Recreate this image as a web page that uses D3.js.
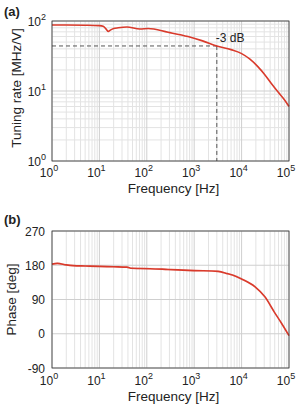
<!DOCTYPE html>
<html>
<head>
<meta charset="utf-8">
<script src="https://cdn.jsdelivr.net/npm/d3@7"></script>
<style>
  body { margin: 0; background: #fff; }
  text { font-family: "Liberation Sans", Arial, sans-serif; fill: #222; }
</style>
</head>
<body>
<svg width="298" height="406"></svg>
<script>
// tuning rate (a)
let rateFreq = [1, 2, 5, 10, 12, 14, 15.4, 17, 20, 25, 38, 72, 107, 280, 740, 1500, 3000, 6000, 9800, 15000, 22000, 30000, 42000, 60000, 80000, 100000];
let rateVal  = [87.7, 87.5, 87, 86, 84, 76, 71, 74, 78, 80, 82, 77, 78, 69, 60, 52, 44, 39, 34.5, 28.5, 22.3, 17.5, 12.9, 9.5, 7.5, 6.0];

// phase (b)
let phaseFreq = [1, 1.3, 2, 2.8, 5, 10, 20, 38, 48, 70, 117, 280, 1000, 3200, 5000, 7500, 10000, 19000, 31000, 49000, 70000, 100000];
let phaseVal  = [183, 185, 181, 179, 178, 177, 176, 175, 172, 171.5, 171, 169, 166, 164, 158, 151, 144, 124, 97, 57, 27, -5];

let xTicks = [1, 10, 100, 1000, 10000, 100000];
let rateTicks = [1, 10, 100];
let phaseTicks = [-90, 0, 90, 180, 270];
let cutoff = { f: 3000, v: 44, label: "-3 dB" };

let svg = d3.select("svg");
let left = 52, right = 289;
let red = "#d93a2b";
let sup = ["0", "1", "2", "3", "4", "5"];

function powLabel(g, x, y, exp, anchor) {
  let t = g.append("text").attr("x", x).attr("y", y).attr("font-size", 12).attr("text-anchor", anchor);
  t.append("tspan").text("10");
  t.append("tspan").attr("dy", -6).attr("font-size", 9).text(exp);
  return t;
}

let x = d3.scaleLog().domain([1, 1e5]).range([left, right]);

// minor grid values for log x
let xMinor = [];
for (let d = 0; d < 5; d++) for (let k = 2; k <= 9; k++) xMinor.push(k * Math.pow(10, d));

function panel(top, bottom) {
  let g = svg.append("g");
  g.append("rect").attr("x", left).attr("y", top).attr("width", right - left).attr("height", bottom - top).attr("fill", "#fff");
  return g;
}

// ---------- (a) ----------
let ya = d3.scaleLog().domain([1, 100]).range([161, 21]);
let ga = panel(21, 161);
let yMinorA = [];
for (let d = 0; d < 2; d++) for (let k = 2; k <= 9; k++) yMinorA.push(k * Math.pow(10, d));

ga.selectAll(".xm").data(xMinor).enter().append("line")
  .attr("x1", d => x(d)).attr("x2", d => x(d)).attr("y1", 21).attr("y2", 161)
  .attr("stroke", "#e3e3e3").attr("stroke-width", 1);
ga.selectAll(".ym").data(yMinorA).enter().append("line")
  .attr("x1", left).attr("x2", right).attr("y1", d => ya(d)).attr("y2", d => ya(d))
  .attr("stroke", "#e3e3e3").attr("stroke-width", 1);
ga.selectAll(".xM").data(xTicks).enter().append("line")
  .attr("x1", d => x(d)).attr("x2", d => x(d)).attr("y1", 21).attr("y2", 161)
  .attr("stroke", "#cfcfcf").attr("stroke-width", 1);
ga.selectAll(".yM").data(rateTicks).enter().append("line")
  .attr("x1", left).attr("x2", right).attr("y1", d => ya(d)).attr("y2", d => ya(d))
  .attr("stroke", "#cfcfcf").attr("stroke-width", 1);

// -3 dB dashed markers
ga.append("line").attr("x1", left).attr("x2", x(cutoff.f)).attr("y1", ya(cutoff.v)).attr("y2", ya(cutoff.v))
  .attr("stroke", "#444").attr("stroke-dasharray", "4,3").attr("stroke-width", 0.9);
ga.append("line").attr("x1", x(cutoff.f)).attr("x2", x(cutoff.f)).attr("y1", ya(cutoff.v)).attr("y2", 161)
  .attr("stroke", "#444").attr("stroke-dasharray", "4,3").attr("stroke-width", 0.9);
ga.append("text").attr("x", x(cutoff.f) - 1).attr("y", ya(cutoff.v) - 4).attr("font-size", 12).text(cutoff.label);

let lineA = d3.line().x((d, i) => x(rateFreq[i])).y(d => ya(d)).curve(d3.curveMonotoneX);
ga.append("path").datum(rateVal).attr("d", lineA).attr("fill", "none").attr("stroke", red).attr("stroke-width", 1.6);

ga.append("rect").attr("x", left).attr("y", 21).attr("width", right - left).attr("height", 140)
  .attr("fill", "none").attr("stroke", "#333").attr("stroke-width", 0.8);

xTicks.forEach((d, i) => powLabel(ga, x(d) - 3, 177, sup[i], "middle"));
rateTicks.forEach((d, i) => powLabel(ga, left - 6, ya(d) + 5, sup[i], "end"));

ga.append("text").attr("x", (left + right) / 2 + 3).attr("y", 193).attr("text-anchor", "middle").attr("font-size", 13.5).text("Frequency [Hz]");
ga.append("text").attr("transform", "translate(21," + (ya(10) - 3) + ") rotate(-90)").attr("text-anchor", "middle").attr("font-size", 13.5).text("Tuning rate [MHz/V]");
ga.append("text").attr("x", 4).attr("y", 16).attr("font-size", 13).attr("font-weight", "bold").text("(a)");

// ---------- (b) ----------
let yb = d3.scaleLinear().domain([-90, 270]).range([368, 231]);
let gb = panel(231, 368);

gb.selectAll(".xm").data(xMinor).enter().append("line")
  .attr("x1", d => x(d)).attr("x2", d => x(d)).attr("y1", 231).attr("y2", 368)
  .attr("stroke", "#e3e3e3").attr("stroke-width", 1);
gb.selectAll(".xM").data(xTicks).enter().append("line")
  .attr("x1", d => x(d)).attr("x2", d => x(d)).attr("y1", 231).attr("y2", 368)
  .attr("stroke", "#cfcfcf").attr("stroke-width", 1);
gb.selectAll(".yM").data(phaseTicks).enter().append("line")
  .attr("x1", left).attr("x2", right).attr("y1", d => yb(d)).attr("y2", d => yb(d))
  .attr("stroke", "#cfcfcf").attr("stroke-width", 1);

let areaB = d3.area().x((d, i) => x(phaseFreq[i])).y0(d => yb(d - 2.5)).y1(d => yb(d + 2.5)).curve(d3.curveMonotoneX);
gb.append("path").datum(phaseVal).attr("d", areaB).attr("fill", red).attr("opacity", 0.18);
let lineB = d3.line().x((d, i) => x(phaseFreq[i])).y(d => yb(d)).curve(d3.curveMonotoneX);
gb.append("path").datum(phaseVal).attr("d", lineB).attr("fill", "none").attr("stroke", red).attr("stroke-width", 1.6);

gb.append("rect").attr("x", left).attr("y", 231).attr("width", right - left).attr("height", 137)
  .attr("fill", "none").attr("stroke", "#333").attr("stroke-width", 0.8);

xTicks.forEach((d, i) => powLabel(gb, x(d) - 3, 385, sup[i], "middle"));
gb.selectAll(".yl").data(phaseTicks).enter().append("text")
  .attr("x", left - 7).attr("y", d => yb(d) + 4.5).attr("text-anchor", "end").attr("font-size", 12).text(d => d);

gb.append("text").attr("x", (left + right) / 2 + 3).attr("y", 401).attr("text-anchor", "middle").attr("font-size", 13.5).text("Frequency [Hz]");
gb.append("text").attr("transform", "translate(16," + yb(90) + ") rotate(-90)").attr("text-anchor", "middle").attr("font-size", 13.5).text("Phase [deg]");
gb.append("text").attr("x", 4).attr("y", 224).attr("font-size", 13).attr("font-weight", "bold").text("(b)");
</script>
</body>
</html>
